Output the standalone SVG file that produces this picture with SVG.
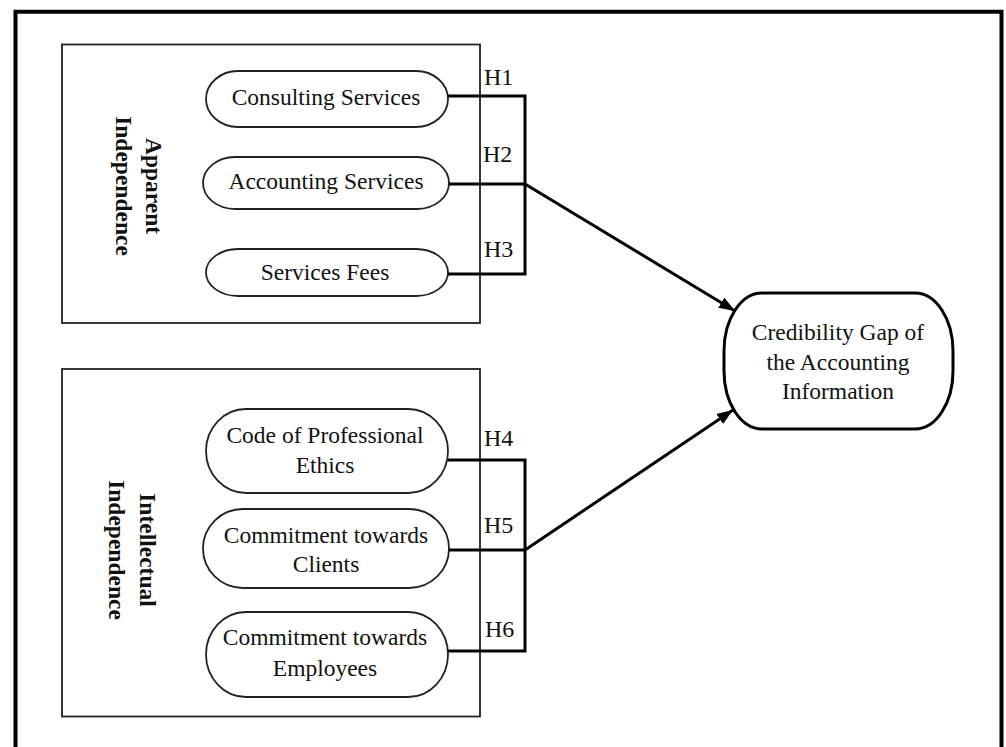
<svg xmlns="http://www.w3.org/2000/svg" width="1006" height="747" viewBox="0 0 1006 747">
<style>
text{font-family:"Liberation Serif","Times New Roman",serif;fill:#111;font-size:23.5px}
.c{text-anchor:middle}
.g{font-weight:bold}
.h{font-size:24px}
.box{fill:none;stroke:#222;stroke-width:1.8}
.ov{fill:#fff;stroke:#222;stroke-width:1.8}
.ln{fill:none;stroke:#000;stroke-width:3}
</style>
<defs>
<marker id="ah" viewBox="0 0 16 12" refX="16" refY="6" markerWidth="16" markerHeight="12" markerUnits="userSpaceOnUse" orient="auto">
<path d="M0,0 L16,6 L0,12 Z" fill="#000"/>
</marker>
</defs>
<rect width="1006" height="747" fill="#fff"/>
<path d="M15.5,760 V11.7 H1001.5 V760" fill="none" stroke="#000" stroke-width="4"/>

<g id="apparent">
<rect class="box" x="62" y="44.5" width="418" height="278.5"/>
<text class="c g" transform="translate(146,186) rotate(90)"><tspan x="0" y="0">Apparent</tspan><tspan x="0" y="30">Independence</tspan></text>
</g>
<g id="intellectual">
<rect class="box" x="62" y="369" width="418" height="347.5"/>
<text class="c g" transform="translate(140,550) rotate(90)"><tspan x="0" y="0">Intellectual</tspan><tspan x="0" y="31">Independence</tspan></text>
</g>

<g id="consulting">
<rect class="ov" x="206" y="71" width="242" height="56" rx="32" ry="28"/>
<text class="c" x="326" y="105">Consulting Services</text>
</g>
<g id="accounting">
<rect class="ov" x="203" y="157" width="246" height="52" rx="32" ry="26"/>
<text class="c" x="326" y="189">Accounting Services</text>
</g>
<g id="fees">
<rect class="ov" x="206" y="249" width="242" height="47" rx="32" ry="23.5"/>
<text class="c" x="325" y="280">Services Fees</text>
</g>
<g id="ethics">
<rect class="ov" x="206" y="409" width="242" height="84" rx="40" ry="42"/>
<text class="c" x="325" y="443">Code of Professional</text>
<text class="c" x="325" y="473">Ethics</text>
</g>
<g id="clients">
<rect class="ov" x="203" y="509" width="246" height="79" rx="40" ry="39.5"/>
<text class="c" x="326" y="543">Commitment towards</text>
<text class="c" x="326" y="572">Clients</text>
</g>
<g id="employees">
<rect class="ov" x="206" y="612" width="242" height="85" rx="40" ry="42.5"/>
<text class="c" x="325" y="645">Commitment towards</text>
<text class="c" x="325" y="676">Employees</text>
</g>
<g id="credibility">
<rect x="724" y="293" width="229" height="136" rx="38" ry="58" fill="#fff" stroke="#000" stroke-width="3"/>
<text class="c" x="838" y="340">Credibility Gap of</text>
<text class="c" x="838" y="370">the Accounting</text>
<text class="c" x="838" y="399">Information</text>
</g>

<g id="connectors">
<path class="ln" d="M448,96 H525 V274 H448"/>
<path class="ln" d="M449,184 H525"/>
<path class="ln" d="M525,184 L735,311" marker-end="url(#ah)"/>
<path class="ln" d="M448,460 H525 V651 H448"/>
<path class="ln" d="M449,550 H525"/>
<path class="ln" d="M525,550 L733,410" marker-end="url(#ah)"/>
<text class="h" x="484" y="85">H1</text>
<text class="h" x="483" y="162">H2</text>
<text class="h" x="484" y="257">H3</text>
<text class="h" x="484" y="446">H4</text>
<text class="h" x="484" y="533">H5</text>
<text class="h" x="485" y="637">H6</text>
</g>
</svg>
